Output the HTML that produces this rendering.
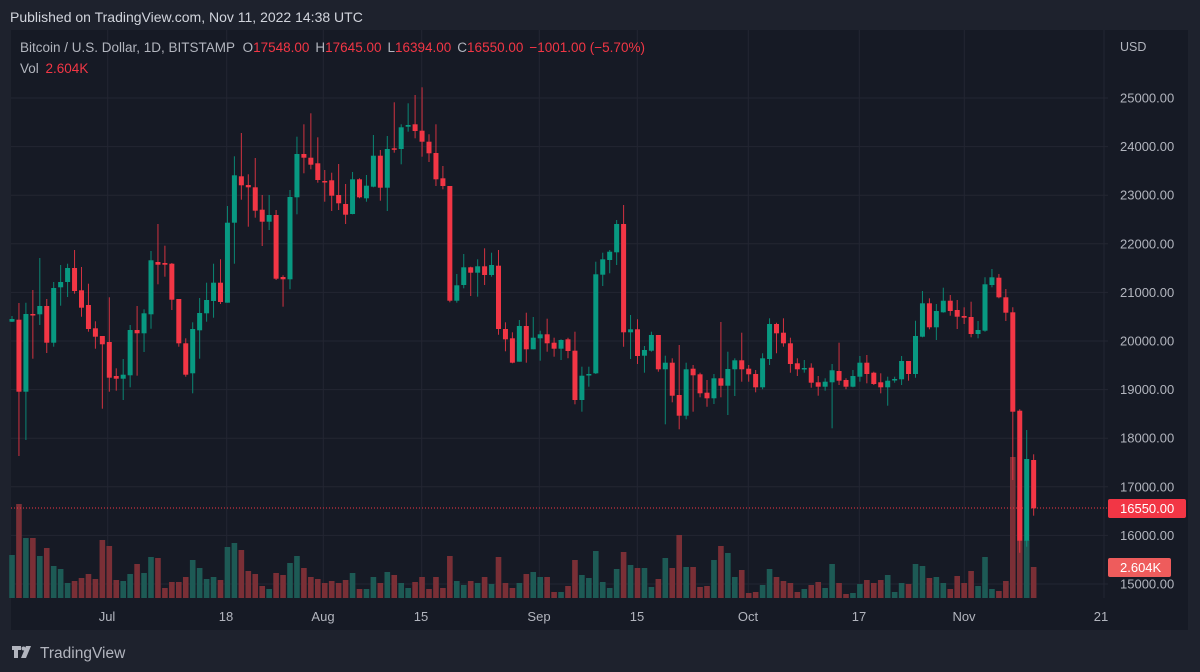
<!DOCTYPE html>
<html><head><meta charset="utf-8">
<style>
html,body{margin:0;padding:0;background:#1e222d;width:1200px;height:672px;overflow:hidden;font-family:"Liberation Sans",sans-serif;}
svg{position:absolute;left:0;top:0;}
</style></head>
<body>
<svg id="s" width="1200" height="672" xmlns="http://www.w3.org/2000/svg">
<rect x="0" y="0" width="1200" height="672" fill="#1e222d"/>
<rect x="11" y="30" width="1177" height="600" fill="#161a25"/>
<g id="grid"></g>
<g id="vol"></g>
<line x1="11" y1="508" x2="1108" y2="508" stroke="#f23645" stroke-width="1" stroke-dasharray="1,2"/>
<g id="cdl"></g>
<text x="10" y="22" fill="#d1d4dc" font-size="14">Published on TradingView.com, Nov 11, 2022 14:38 UTC</text>
<text x="20" y="52" fill="#b2b5be" font-size="13.5">Bitcoin / U.S. Dollar, 1D, BITSTAMP <tspan dx="4">O</tspan><tspan fill="#f23645">17548.00</tspan><tspan dx="6">H</tspan><tspan fill="#f23645">17645.00</tspan><tspan dx="6">L</tspan><tspan fill="#f23645">16394.00</tspan><tspan dx="6">C</tspan><tspan fill="#f23645">16550.00</tspan><tspan dx="6" fill="#f23645">−1001.00 (−5.70%)</tspan></text>
<text x="20" y="73" fill="#b2b5be" font-size="13.5">Vol <tspan fill="#f23645" dx="3">2.604K</tspan></text>
<text x="1120" y="51" fill="#b2b5be" font-size="12.5">USD</text>
<g id="axis" fill="#b2b5be" font-size="13"></g>
<rect x="1108" y="499" width="78" height="19" rx="2" fill="#f23645"/>
<text x="1120" y="513" fill="#ffffff" font-size="13">16550.00</text>
<rect x="1108" y="558" width="63" height="19" rx="2" fill="#ee5c5c"/>
<text x="1120" y="572" fill="#ffffff" font-size="13">2.604K</text>
<g fill="#b2b5be" font-size="13" text-anchor="middle">
<text x="107" y="621">Jul</text><text x="226" y="621">18</text><text x="323" y="621">Aug</text><text x="421" y="621">15</text><text x="539" y="621">Sep</text><text x="637" y="621">15</text><text x="748" y="621">Oct</text><text x="859" y="621">17</text><text x="964" y="621">Nov</text><text x="1101" y="621">21</text>
</g>
<g fill="#b2b5be">
<path d="M12 646h9v4h-3v8h-4v-8h-2z"/><circle cx="23.5" cy="648.5" r="2"/><path d="M26 646h5l-5 12h-5z"/>
</g>
<text x="40" y="658" fill="#b2b5be" font-size="15.5">TradingView</text>
</svg>
<script>
var D=[
[321.7,319,316,322,555,1],[319.7,391.7,303,456,504,0],[391.7,314,302.7,440,538,1],[314,315,290,358.7,538,0],[314.3,306,258,325,556,1],[306,342.7,299,353,548,0],[342.7,288,282,346.7,566,1],[287.3,282,265,305.7,569,1],[282,268,263.7,297,583,1],[268,291,250,293.7,581,0],
[290.3,307.7,267,316.7,578,0],[305,329,283.7,331.7,574,0],[328.3,336.7,321.3,348.7,579,0],[336,344.3,336,408.7,540,0],[342,377.7,297.3,391.7,546,0],[376,378.7,368.3,390.7,580,0],[378.7,374.7,359,400,581,1],[375.3,330,325,387.3,574,1],[330,333.3,306,375.7,564,0],[333.3,313.3,309.3,352,573,1],
[314.3,260.3,251,328.7,557,1],[262,264.7,224,284.3,558,0],[263,264.7,245.7,276.7,588,0],[263.7,299.7,263,310,582,0],[299,343.3,299,346.7,582,0],[343.3,374.7,338.3,376.7,577,0],[373.3,329,322.3,393.3,560,1],[330.3,313,298,358.7,568,1],[313.3,300,282.7,321.7,579,1],[301,282.7,263.7,317.7,577,1],
[282.7,302,259.3,304,580,0],[302.7,222.7,206,302.7,547,1],[222.7,175.3,156.3,263.7,543,1],[176.3,185.3,133,199.7,550,0],[185,187.3,174.3,226.7,571,0],[187.3,210.7,158,217.7,574,0],[209.7,221.7,195,246,586,0],[221.7,215,195,230,589,1],[215,278.7,210,280,573,0],[277,279.3,275.3,306.7,575,0],
[279.3,197,190,289.3,563,1],[197.3,154,136.7,214.3,556,1],[154,157.7,124.3,173.3,568,0],[157.7,164.7,113.3,169.3,577,0],[163.3,180,137.3,182.7,579,0],[181,181.7,170,201.7,583,0],[180.3,195.7,172.7,211,581,0],[195,203.3,164,210,583,0],[204,214.7,184,224,580,0],[214,179.3,172,214.3,573,1],
[179.3,197.3,178.3,198.3,589,0],[198.3,185.7,175,201.7,589,1],[186.7,155.7,135,187.3,577,1],[155.7,187.7,150,200.7,583,0],[187.7,149,136,211,572,1],[148.3,149.3,102.3,152.7,575,0],[149,127.3,124.3,164.3,583,1],[126.7,125,103.3,131.7,588,1],[124.3,131,95,138.3,582,0],[130.7,141.7,87.3,156.7,577,0],
[141.7,153.3,134.3,162,589,0],[153,179.3,124.3,186,577,0],[178.3,186,166,189.3,588,0],[186,300.7,186,302.3,556,0],[300.7,285.3,274,302.7,581,1],[285,267.3,254,288.3,585,1],[267.3,272.7,266.7,296,581,0],[272.7,266.3,259.3,296.7,583,1],[266.3,275,248.3,285,577,0],[275,265,252.7,276.7,584,1],
[265.7,329,250,334.7,557,0],[329,339.3,322.3,351.3,583,0],[338.3,362.7,332.3,363.3,588,0],[361.7,326,320,361.7,583,1],[326,349.3,312.7,362.7,574,0],[349.3,337.7,317,349.3,572,1],[338.3,334.3,330.7,360.7,577,1],[334.3,343.3,318.7,351.7,577,0],[342.7,348.7,337.7,356.7,592,0],[348.7,340,339.3,360,592,1],
[339.3,351,337.7,358.3,586,0],[350.7,400,331.7,404.3,560,0],[400,375.7,366.7,411.7,575,1],[374.7,374,366.7,386.7,578,1],[373.3,274.3,261.7,374,551,1],[274.7,259.3,252.7,286,582,1],[260,251.7,250,273.3,588,1],[252.3,224,220,265,569,1],[224,332.3,205,346.7,552,0],[332.3,329.3,315,359,565,1],
[329.3,356,319.3,364,568,0],[355.7,350,346,372.7,568,1],[350.7,335,331.7,351.7,587,1],[335,369.3,335,371.7,579,0],[369.3,362.7,355.7,424.3,558,1],[362.7,395.7,358.3,402.3,568,0],[395,415.7,345,429.3,535,0],[415.7,369.3,362.7,419.3,567,1],[368.7,375.3,365,411.7,567,0],[374.3,393.3,372.7,397.3,587,0],
[392.7,398.3,380,406.7,586,0],[398.3,378.3,374,404,560,1],[378.3,385.7,322,397.3,546,0],[385.7,369,351.7,415,553,1],[369.3,360.3,358.3,396,577,1],[360.3,369.3,332.7,381.7,570,0],[368.7,374.3,365,381.7,593,0],[374,387.3,370,392.3,592,0],[387.3,358.3,353.3,389.3,585,1],[359,324,318.3,365,569,1],
[324,333.3,322.7,353.3,577,0],[332.7,343.3,318.3,346.7,581,0],[343.3,364,337.7,372.7,583,0],[363.3,369.3,358.3,376,592,0],[369,368,360,372.7,589,1],[367.7,382.7,363.3,387.7,585,0],[382.3,386.7,376,395.7,582,0],[386.7,381.7,378.3,390.7,588,1],[382.3,370.3,364,428.3,564,1],[371,380.7,342.7,385,583,0],
[380,386.7,378.3,389.3,594,0],[386.7,376,370,387.3,593,1],[376.7,362.7,356,381.7,584,1],[362.7,374,355,383.3,580,0],[372.7,384,371.7,385,583,0],[382.3,387.3,373.3,393.3,580,0],[387.3,380.7,376.7,405.7,575,1],[380,379,376.7,382.7,592,1],[379.3,361,356,385,583,1],[361,374,361,380.7,584,0],
[374,336,320.7,377.7,564,1],[336.7,303.3,291,337.3,566,1],[303.3,327.3,298.3,329.3,578,0],[327.3,311,304,340,577,1],[312.3,300.7,287.7,312.7,583,1],[300.7,311,295,315.7,589,0],[310,316.7,300,329,576,0],[316,317.7,307.3,324,583,0],[317,334,301.7,337.3,571,0],[334,330,321,338.3,586,1],
[330.7,284.3,277.3,331.7,557,1],[285,277.3,269,287.3,589,1],[277.7,297.3,274,298.3,591,0],[297.3,312.7,289,321,581,0],[312.3,411.7,307.3,480,457,0],[410.7,540.7,409.3,552.7,500,0],[540.7,459,430,546.7,540,1],[460,508.3,454.3,515.7,567,0]
];
var NS="http://www.w3.org/2000/svg";
function el(p,t,a){var e=document.createElementNS(NS,t);for(var k in a)e.setAttribute(k,a[k]);p.appendChild(e);return e;}
var g=document.getElementById('grid'),ax=document.getElementById('axis');
for(var k=0;k<=10;k++){var y=584-k*48.6;el(g,'line',{x1:11,x2:1108,y1:y,y2:y,stroke:'#232632','stroke-width':1});
var t=el(ax,'text',{x:1120,y:y+4.5});t.textContent=(15000+k*1000)+'.00';}
[107.7,226.7,323.3,421.7,539.3,637.3,748.3,859.3,964.3,1104].forEach(function(x){el(g,'line',{x1:x,x2:x,y1:30,y2:598,stroke:'#232632','stroke-width':1});});
var v=document.getElementById('vol'),c=document.getElementById('cdl');
D.forEach(function(d,i){var x=12+i*6.95;var gr=d[5]==1;
el(v,'rect',{x:x-2.8,y:d[4],width:5.6,height:598-d[4],fill:gr?'#1d5a55':'#7a2f36'});
var col=gr?'#089981':'#f23645';
el(c,'line',{x1:x,x2:x,y1:d[2],y2:d[3],stroke:col,'stroke-width':1,opacity:0.85});
var t=Math.min(d[0],d[1]),h=Math.max(Math.abs(d[0]-d[1]),1.5);
el(c,'rect',{x:x-2.5,y:t,width:5,height:h,fill:col});});
</script>
</body></html>
